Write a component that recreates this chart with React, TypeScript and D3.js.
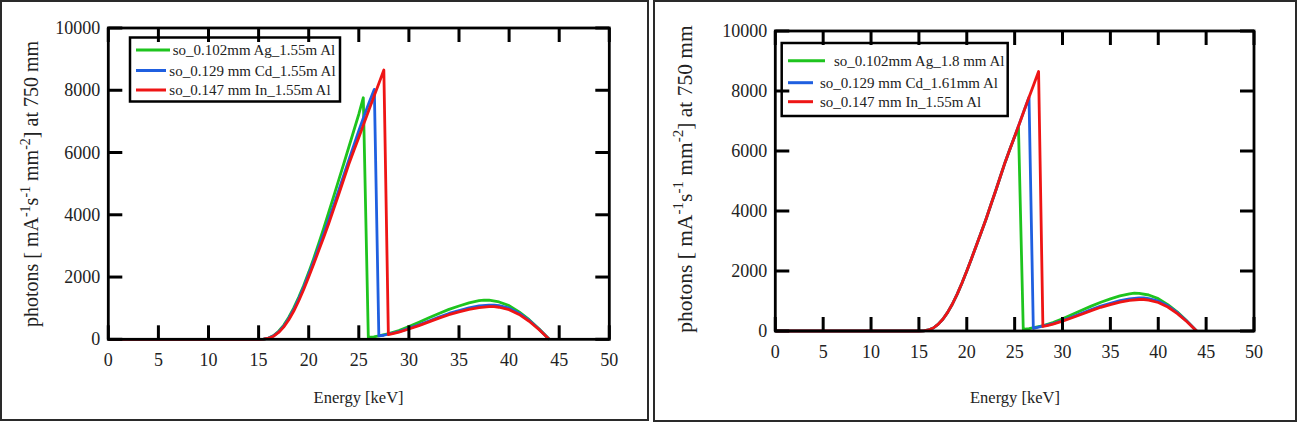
import React from "react";
import * as d3 from "d3";

// ---------- data ----------
const xTickValues = [0, 5, 10, 15, 20, 25, 30, 35, 40, 45, 50];
const yTickValues = [0, 2000, 4000, 6000, 8000, 10000];

const riseIn: [number, number][] = [
  [0, 0], [15, 0], [15.5, 5], [16, 35], [16.5, 100], [17, 220], [17.5, 390], [18, 620],
  [18.5, 900], [19, 1230], [19.5, 1600], [20, 2000], [20.5, 2420], [21, 2850], [21.5, 3280],
  [22, 3720], [22.5, 4190], [23, 4660], [23.5, 5140], [24, 5620], [24.5, 6060], [25, 6480],
  [25.5, 6920], [26, 7360], [26.5, 7790], [27, 8220], [27.5, 8650],
];
const tailAg: [number, number][] = [
  [26.5, 80], [27, 110], [28, 180], [29, 280], [30, 410], [31, 550], [32, 690], [33, 830],
  [34, 960], [35, 1070], [36, 1170], [37, 1240], [37.5, 1260], [38, 1255], [39, 1200],
  [40, 1080], [41, 880], [42, 630], [43, 330], [44, 0],
];
const tailCd: [number, number][] = [
  [27.5, 130], [28, 170], [29, 245], [30, 350], [31, 465], [32, 590], [33, 715], [34, 830],
  [35, 925], [36, 1010], [37, 1070], [38, 1100], [38.5, 1100], [39, 1080], [40, 1000],
  [41, 840], [42, 610], [43, 325], [44, 0],
];
const tailIn: [number, number][] = [
  [27.95, 150], [28.5, 190], [29, 230], [30, 330], [31, 440], [32, 560], [33, 680], [34, 790],
  [35, 880], [36, 960], [37, 1020], [38, 1050], [38.5, 1050], [39, 1030], [40, 950], [41, 800],
  [42, 580], [43, 310], [44, 0],
];
const leftAgRise: [number, number][] = [
  [0, 0], [15, 0], [15.5, 8], [16, 40], [16.5, 120], [17, 260], [17.5, 450], [18, 700],
  [18.5, 1000], [19, 1350], [19.5, 1730], [20, 2150], [20.5, 2600], [21, 3080], [21.5, 3570],
  [22, 4080], [22.5, 4600], [23, 5120], [23.5, 5640], [24, 6170], [24.5, 6700], [25, 7230],
  [25.45, 7760], [25.95, 60],
];
const leftCdRise: [number, number][] = [
  [0, 0], [15, 0], [15.5, 6], [16, 40], [16.5, 110], [17, 240], [17.5, 420], [18, 660],
  [18.5, 950], [19, 1290], [19.5, 1670], [20, 2080], [20.5, 2510], [21, 2950], [21.5, 3390],
  [22, 3840], [22.5, 4310], [23, 4790], [23.5, 5270], [24, 5750], [24.5, 6230], [25, 6700],
  [25.5, 7150], [26, 7580], [26.55, 8030], [27.0, 110],
];
const rightAgEdge: [number, number][] = [[25.4, 6770], [25.9, 50]];
const rightCdEdge: [number, number][] = [[26.5, 7790], [26.95, 90]];

const leftLabels = ["so_0.102mm Ag_1.55m Al", "so_0.129 mm Cd_1.55m Al", "so_0.147 mm In_1.55m Al"];
const rightLabels = ["so_0.102mm Ag_1.8 mm Al", "so_0.129 mm Cd_1.61mm Al", "so_0.147 mm In_1.55m Al"];
const seriesColors = ["#1ec41e", "#1f5fe0", "#ee1515"];

const leftSeries = [
  [...leftAgRise, ...tailAg],
  [...leftCdRise, ...tailCd],
  [...riseIn, ...tailIn],
];
const rightSeries = [
  [...riseIn.filter((d) => d[0] <= 25), ...rightAgEdge, ...tailAg],
  [...riseIn.filter((d) => d[0] < 26.5), ...rightCdEdge, ...tailCd],
  [...riseIn, ...tailIn],
];

const FONT = "Liberation Serif";

function renderPanel(c: any) {
  const { id, frame, plot, series, labels, legend, yTitle, xTitle } = c;
  const x = d3.scaleLinear().domain([0, 50]).range([plot.left, plot.right]);
  const y = d3.scaleLinear().domain([0, 10000]).range([plot.bottom, plot.top]);
  const lineGen = d3.line<[number, number]>().x((d) => x(d[0])).y((d) => y(d[1]));
  const tl = 14;
  const segs: number[][] = [];
  xTickValues.forEach((v) => {
    segs.push([x(v), plot.bottom, x(v), plot.bottom - tl]);
    segs.push([x(v), plot.top, x(v), plot.top + tl]);
  });
  yTickValues.forEach((v) => {
    segs.push([plot.left, y(v), plot.left + tl, y(v)]);
    segs.push([plot.right, y(v), plot.right - tl, y(v)]);
  });
  const sup = Math.round(yTitle.size * 0.68);
  const shift = Math.round(yTitle.size * 0.42);
  return (
    <g key={id}>
      <rect x={frame[0]} y={frame[1]} width={frame[2]} height={frame[3]} fill="#fff" stroke="#2a2a2a" strokeWidth={2} />
      {series.map((s: [number, number][], i: number) => (
        <path key={"s" + i} d={lineGen(s) || ""} fill="none" stroke={seriesColors[i]} strokeWidth={2.8} strokeLinejoin="round" />
      ))}
      <rect
        x={plot.left}
        y={plot.top}
        width={plot.right - plot.left}
        height={plot.bottom - plot.top}
        fill="none"
        stroke="#000"
        strokeWidth={2.8}
      />
      {xTickValues.map((v) => (
        <text key={"x" + v} x={x(v)} y={plot.bottom + 27} textAnchor="middle" fontSize={18} fontFamily={FONT} fill="#222">
          {String(v)}
        </text>
      ))}
      {yTickValues.map((v) => (
        <text key={"y" + v} x={plot.left - 8} y={y(v) + 6} textAnchor="end" fontSize={18} fontFamily={FONT} fill="#222">
          {String(v)}
        </text>
      ))}
      <rect
        x={legend.box[0]}
        y={legend.box[1]}
        width={legend.box[2]}
        height={legend.box[3]}
        fill="#fff"
        stroke="#000"
        strokeWidth={2.5}
      />
      {legend.lines.map((l: any, i: number) => (
        <line key={"ll" + i} x1={l.x1} x2={l.x2} y1={l.y} y2={l.y} stroke={seriesColors[i]} strokeWidth={3} />
      ))}
      {legend.lines.map((l: any, i: number) => (
        <text key={"lt" + i} x={l.tx} y={l.y + 5} fontSize={15} fontFamily={FONT} fill="#222">
          {labels[i]}
        </text>
      ))}
      <text x={xTitle.x} y={xTitle.y} textAnchor="middle" fontSize={16.5} fontFamily={FONT} fill="#222">
        Energy [keV]
      </text>
      <text
        transform={`translate(${yTitle.x},${yTitle.y}) rotate(-90)`}
        textAnchor="middle"
        fontSize={yTitle.size}
        fontFamily={FONT}
        fill="#222"
      >
        {"photons [ mA"}
        <tspan dy={-shift} fontSize={sup}>-1</tspan>
        <tspan dy={shift}>s</tspan>
        <tspan dy={-shift} fontSize={sup}>-1</tspan>
        <tspan dy={shift}>{" mm"}</tspan>
        <tspan dy={-shift} fontSize={sup}>-2</tspan>
        <tspan dy={shift}>{"] at 750 mm"}</tspan>
      </text>
      {segs.map((s, i) => (
        <line key={"t" + i} x1={s[0]} y1={s[1]} x2={s[2]} y2={s[3]} stroke="#000" strokeWidth={3} />
      ))}
    </g>
  );
}

const leftCfg = {
  id: "L",
  frame: [1, 1, 647, 419],
  plot: { left: 108.3, right: 609.3, top: 28, bottom: 339.3 },
  series: leftSeries,
  labels: leftLabels,
  legend: {
    box: [130, 37.5, 210, 64],
    lines: [
      { x1: 136, x2: 170, y: 50, tx: 172.7 },
      { x1: 136, x2: 166, y: 70.5, tx: 169.3 },
      { x1: 136, x2: 166, y: 90, tx: 169.3 },
    ],
  },
  yTitle: { x: 38, y: 184, size: 20 },
  xTitle: { x: 358.6, y: 403 },
};

const rightCfg = {
  id: "R",
  frame: [654, 1, 642, 420],
  plot: { left: 775.3, right: 1254, top: 31, bottom: 331 },
  series: rightSeries,
  labels: rightLabels,
  legend: {
    box: [781.7, 43, 226, 73],
    lines: [
      { x1: 788, x2: 825, y: 60.7, tx: 834 },
      { x1: 788, x2: 813, y: 82.7, tx: 820 },
      { x1: 788, x2: 813, y: 101.7, tx: 820 },
    ],
  },
  yTitle: { x: 692, y: 179, size: 21.5 },
  xTitle: { x: 1015, y: 403 },
};

export default function App() {
  return (
    <svg width={1298} height={422} style={{ position: "absolute", left: 0, top: 0 }}>
      {renderPanel(leftCfg)}
      {renderPanel(rightCfg)}
    </svg>
  );
}
